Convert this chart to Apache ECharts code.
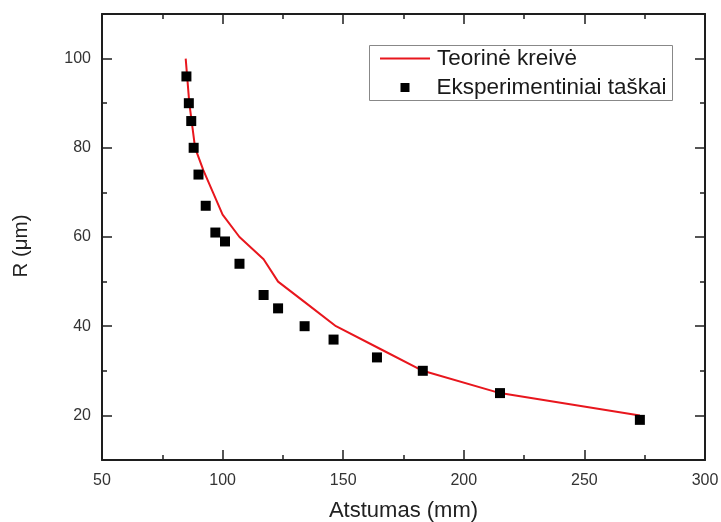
<!DOCTYPE html>
<html>
<head>
<meta charset="utf-8">
<script src="https://cdn.jsdelivr.net/npm/echarts@6/dist/echarts.min.js"></script>
<style>
  html, body { margin: 0; padding: 0; background: #fff; }
  #chart { width: 721px; height: 522px; }
</style>
</head>
<body>
<div id="chart"></div>
<script>
// Theoretical curve: distance (mm) vs radius (µm)
const theoryDist = [84.7, 86.2, 88.6, 92, 96, 100, 107, 117, 123, 135, 147, 165, 183, 215, 273];
const theoryR    = [100, 90, 80, 75, 70, 65, 60, 55, 50, 45, 40, 35, 30, 25, 20];

// Measured points
const expDist = [85, 86, 87, 88, 90, 93, 97, 101, 107, 117, 123, 134, 146, 164, 183, 215, 273];
const expR    = [96, 90, 86, 80, 74, 67, 61, 59, 54, 47, 44, 40, 37, 33, 30, 25, 19];

// Axis ticks
const xTicks = [50, 100, 150, 200, 250, 300];
const yMajor = [20, 40, 60, 80, 100];
const yMinor = [30, 50, 70, 90];

const FONT = 'Liberation Sans, Arial, sans-serif';
const AX = '#1e1e1e';
const names = ['Teorinė kreivė', 'Eksperimentiniai taškai'];

// ticks point into the plot area
const MAJOR = -10;
const MINOR = -5;

const zip = (a, b) => a.map((v, i) => [v, b[i]]);

const baseX = {
  type: 'value', min: xTicks[0], max: xTicks[xTicks.length - 1], interval: 50,
  axisLine: { show: true, lineStyle: { color: AX, width: 2 } },
  axisTick: { show: true, length: MAJOR, lineStyle: { color: AX, width: 1.5 } },
  minorTick: { show: true, splitNumber: 2, length: MINOR, lineStyle: { color: AX, width: 1.5 } },
  splitLine: { show: false }
};
const baseY = {
  type: 'value', min: 10, max: 110, interval: 10,
  splitLine: { show: false }
};

const chart = echarts.init(document.getElementById('chart'), null, { renderer: 'canvas' });
chart.setOption({
  animation: false,
  backgroundColor: '#fff',
  grid: { left: 102, right: 16, top: 14, bottom: 62, containLabel: false, outerBoundsMode: 'none' },
  xAxis: [
    Object.assign({}, baseX, {
      position: 'bottom',
      axisLabel: { show: true, fontSize: 16, color: '#333', margin: 13, fontFamily: FONT },
      name: 'Atstumas (mm)', nameLocation: 'middle', nameGap: 40,
      nameTextStyle: { fontSize: 22, color: '#222', fontFamily: FONT }
    }),
    Object.assign({}, baseX, { position: 'top', axisLabel: { show: false } })
  ],
  yAxis: [
    Object.assign({}, baseY, {
      position: 'left',
      axisLine: { show: true, lineStyle: { color: AX, width: 2 } },
      axisTick: { show: true, length: MAJOR, customValues: yMajor, lineStyle: { color: AX, width: 1.5 } },
      axisLabel: { show: true, customValues: yMajor, fontSize: 16, color: '#333', margin: 11, fontFamily: FONT },
      name: 'R (μm)', nameLocation: 'middle', nameGap: 70,
      nameTextStyle: { fontSize: 20.5, color: '#222', fontFamily: FONT, padding: [0, 18, 0, 0] }
    }),
    Object.assign({}, baseY, {
      position: 'right',
      axisLine: { show: true, lineStyle: { color: AX, width: 2 } },
      axisTick: { show: true, length: MAJOR, customValues: yMajor, lineStyle: { color: AX, width: 1.5 } },
      axisLabel: { show: false }
    }),
    Object.assign({}, baseY, {
      position: 'left',
      axisLine: { show: false },
      axisTick: { show: true, length: MINOR, customValues: yMinor, lineStyle: { color: AX, width: 1.5 } },
      axisLabel: { show: false }
    }),
    Object.assign({}, baseY, {
      position: 'right',
      axisLine: { show: false },
      axisTick: { show: true, length: MINOR, customValues: yMinor, lineStyle: { color: AX, width: 1.5 } },
      axisLabel: { show: false }
    })
  ],
  legend: [
    {
      data: [{ name: names[0], icon: 'rect' }], left: 380, top: 47, padding: 0,
      itemWidth: 50, itemHeight: 2,
      textStyle: { fontSize: 22.5, color: '#1a1a1a', fontFamily: FONT, lineHeight: 22, padding: [0, 0, 0, 2] }
    },
    {
      data: [{ name: names[1], icon: 'rect' }], left: 400.5, top: 76, padding: 0,
      itemWidth: 9, itemHeight: 9,
      textStyle: { fontSize: 22.5, color: '#1a1a1a', fontFamily: FONT, lineHeight: 22, padding: [0, 0, 0, 22] }
    }
  ],
  graphic: [{
    type: 'rect', left: 367, top: 43, silent: true,
    shape: { width: 303, height: 55 },
    style: { fill: 'none', stroke: '#888', lineWidth: 1 }
  }],
  series: [
    {
      name: names[0], type: 'line', data: zip(theoryDist, theoryR),
      symbol: 'none', smooth: false,
      lineStyle: { color: '#e8161d', width: 2 },
      itemStyle: { color: '#e8161d' },
      z: 2
    },
    {
      name: names[1], type: 'scatter', data: zip(expDist, expR),
      symbol: 'rect', symbolSize: 10,
      itemStyle: { color: '#000', opacity: 1 },
      z: 3
    }
  ]
});
</script>
</body>
</html>
